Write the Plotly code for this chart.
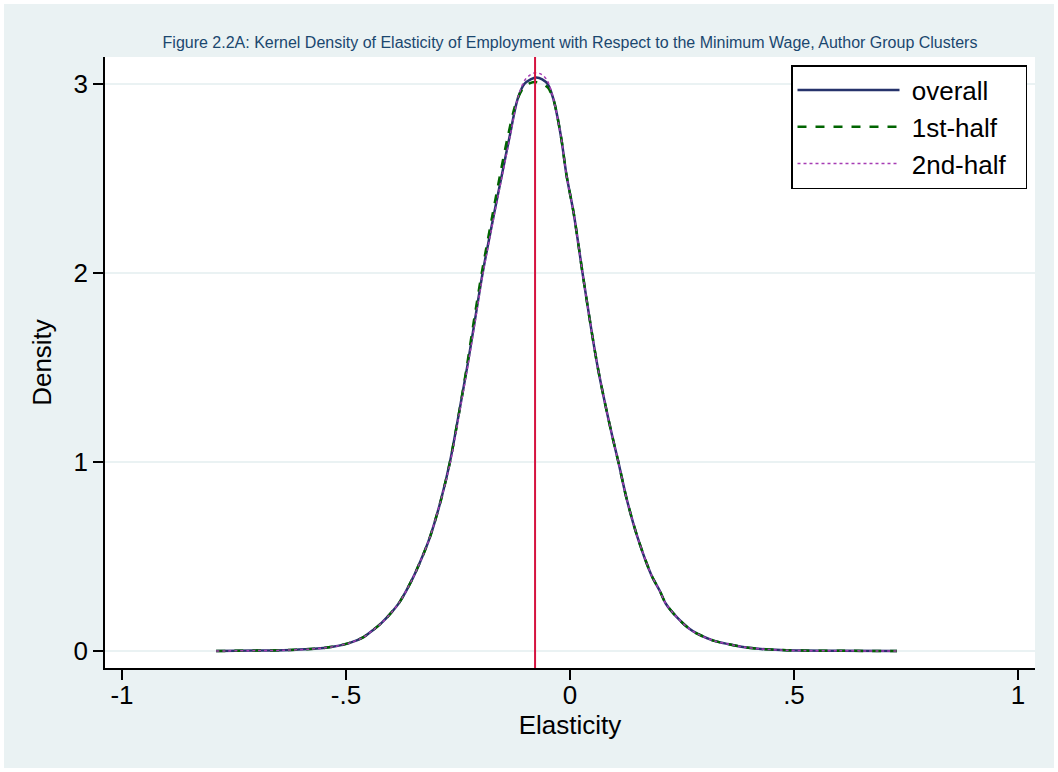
import plotly.graph_objects as go

# ---- data ----
title_text = ("Figure 2.2A: Kernel Density of Elasticity of Employment with Respect "
              "to the Minimum Wage, Author Group Clusters")

overall_x = [-0.79, -0.70, -0.64, -0.58, -0.53, -0.49, -0.46, -0.44, -0.42, -0.40,
             -0.38, -0.352, -0.333, -0.313, -0.288, -0.268, -0.244, -0.229, -0.215,
             -0.195, -0.169, -0.152, -0.135, -0.117, -0.102, -0.088, -0.075, -0.062,
             -0.05, -0.037, -0.020, -0.008, 0.008, 0.028, 0.047, 0.062, 0.080, 0.094,
             0.108, 0.127, 0.151, 0.182, 0.20, 0.214, 0.24, 0.265, 0.285, 0.32, 0.352,
             0.39, 0.426, 0.47, 0.52, 0.60, 0.73]
overall_y = [0.000, 0.002, 0.004, 0.010, 0.022, 0.044, 0.075, 0.110, 0.150, 0.200,
             0.260, 0.380, 0.480, 0.600, 0.800, 1.000, 1.310, 1.510, 1.710,
             2.000, 2.320, 2.520, 2.720, 2.920, 3.000, 3.025, 3.035, 3.025,
             3.000, 2.920, 2.720, 2.520, 2.320, 2.000, 1.710, 1.500, 1.290, 1.140,
             1.000, 0.800, 0.600, 0.400, 0.320, 0.250, 0.175, 0.120, 0.090, 0.055, 0.037,
             0.020, 0.011, 0.005, 0.002, 0.001, 0.000]

first_half_x = [-0.79, -0.70, -0.64, -0.58, -0.53, -0.49, -0.46, -0.44, -0.42, -0.40,
                -0.38, -0.352, -0.333, -0.313, -0.288, -0.268, -0.244, -0.230, -0.217,
                -0.197, -0.172, -0.156, -0.139, -0.120, -0.104, -0.089, -0.074, -0.061,
                -0.049, -0.036, -0.020, -0.008, 0.008, 0.028, 0.047, 0.062, 0.080, 0.094,
                0.108, 0.127, 0.151, 0.182, 0.20, 0.214, 0.24, 0.265, 0.285, 0.32, 0.352,
                0.39, 0.426, 0.47, 0.52, 0.60, 0.73]
first_half_y = [0.000, 0.002, 0.004, 0.010, 0.022, 0.044, 0.075, 0.110, 0.150, 0.200,
                0.260, 0.380, 0.480, 0.600, 0.800, 1.000, 1.310, 1.510, 1.710,
                2.000, 2.320, 2.520, 2.720, 2.905, 2.980, 3.005, 3.010, 3.000,
                2.980, 2.910, 2.720, 2.520, 2.320, 2.000, 1.710, 1.500, 1.290, 1.140,
                1.000, 0.800, 0.600, 0.400, 0.320, 0.250, 0.175, 0.120, 0.090, 0.055, 0.037,
                0.020, 0.011, 0.005, 0.002, 0.001, 0.000]

second_half_x = [-0.79, -0.70, -0.64, -0.58, -0.53, -0.49, -0.46, -0.44, -0.42, -0.40,
                 -0.38, -0.352, -0.333, -0.313, -0.288, -0.267, -0.243, -0.228, -0.214,
                 -0.194, -0.168, -0.151, -0.134, -0.116, -0.101, -0.088, -0.076, -0.063,
                 -0.051, -0.038, -0.020, -0.008, 0.008, 0.028, 0.047, 0.062, 0.080, 0.094,
                 0.108, 0.127, 0.151, 0.182, 0.20, 0.214, 0.24, 0.265, 0.285, 0.32, 0.352,
                 0.39, 0.426, 0.47, 0.52, 0.60, 0.73]
second_half_y = [0.000, 0.002, 0.004, 0.010, 0.022, 0.044, 0.075, 0.110, 0.150, 0.200,
                 0.260, 0.380, 0.480, 0.600, 0.800, 1.000, 1.310, 1.510, 1.710,
                 2.000, 2.320, 2.520, 2.720, 2.930, 3.020, 3.050, 3.060, 3.050,
                 3.020, 2.930, 2.720, 2.520, 2.320, 2.000, 1.710, 1.500, 1.290, 1.140,
                 1.000, 0.800, 0.600, 0.400, 0.320, 0.250, 0.175, 0.120, 0.090, 0.055, 0.037,
                 0.020, 0.011, 0.005, 0.002, 0.001, 0.000]

series_names = ["overall", "1st-half", "2nd-half"]
mean_elasticity = -0.078

x_tickvals = [-1, -0.5, 0, 0.5, 1]
x_ticktext = ["-1", "-.5", "0", ".5", "1"]
y_tickvals = [0, 1, 2, 3]
y_ticktext = ["0", "1", "2", "3"]

# ---- style ----
BG = "#EAF2F3"
FONT = "Liberation Sans, Arial, sans-serif"
W, H = 1058, 772
ML, MR, MT, MB = 105, 23, 57, 104
PW, PH = W - ML - MR, H - MT - MB


def label(name):
    return "\u00a0" + name + "\u00a0\u00a0"


fig = go.Figure()
fig.add_trace(go.Scatter(x=overall_x, y=overall_y, name=label(series_names[0]), mode="lines",
                         line=dict(color="#26336B", width=2.5, shape="spline", smoothing=0.8)))
fig.add_trace(go.Scatter(x=first_half_x, y=first_half_y, name=label(series_names[1]),
                         mode="lines",
                         line=dict(color="#006400", width=2.5, dash="dash", shape="spline",
                                   smoothing=0.8)))
fig.add_trace(go.Scatter(x=second_half_x, y=second_half_y, name=label(series_names[2]),
                         mode="lines",
                         line=dict(color="#A63CB4", width=1.5, dash="dot", shape="spline",
                                   smoothing=0.8)))

# thin white border around the bluish-grey page
fig.add_shape(type="rect", xref="paper", yref="paper",
              x0=-ML / PW, x1=(W - ML) / PW, y0=-MB / PH, y1=(PH + MT) / PH,
              fillcolor="rgba(0,0,0,0)", line=dict(color="white", width=8), layer="below")
# vertical reference line at the mean elasticity
fig.add_shape(type="line", xref="x", yref="paper", x0=mean_elasticity, x1=mean_elasticity,
              y0=0, y1=1, line=dict(color="#D5133F", width=2), layer="above")

fig.update_layout(
    width=W, height=H,
    margin=dict(l=ML, r=MR, t=MT, b=MB),
    paper_bgcolor=BG, plot_bgcolor="white",
    font=dict(family=FONT, color="black"),
    title=dict(text=title_text, x=(ML + ML + PW) / 2 / W, xanchor="center",
               y=1 - 42 / H, yanchor="middle",
               font=dict(size=16, color="#1A476F", family=FONT)),
    xaxis=dict(range=[-1.038, 1.038], tickvals=x_tickvals, ticktext=x_ticktext,
               showgrid=False, zeroline=False, showline=True, linecolor="black",
               linewidth=1.5, ticks="outside", ticklen=10, tickwidth=1.5,
               tickcolor="black", tickfont=dict(size=26), ticklabelstandoff=-7,
               title=dict(text="Elasticity", font=dict(size=26), standoff=6)),
    yaxis=dict(range=[-0.09, 3.143], tickvals=y_tickvals, ticktext=y_ticktext,
               showgrid=True, gridcolor=BG, gridwidth=2, zeroline=False,
               showline=True, linecolor="black", linewidth=1.5, ticks="outside",
               ticklen=10, tickwidth=1.5, tickcolor="black", tickfont=dict(size=26),
               title=dict(text="Density", font=dict(size=26), standoff=14)),
    showlegend=True,
    legend=dict(x=(1027 - ML) / PW, xanchor="right", y=(PH + MT - 65) / PH, yanchor="top",
                bgcolor="white", bordercolor="black", borderwidth=1.5,
                font=dict(size=26), itemwidth=102, tracegroupgap=0),
)

fig.write_html("out.html", config={"displayModeBar": False},
               post_script="document.body.style.margin='0';")
